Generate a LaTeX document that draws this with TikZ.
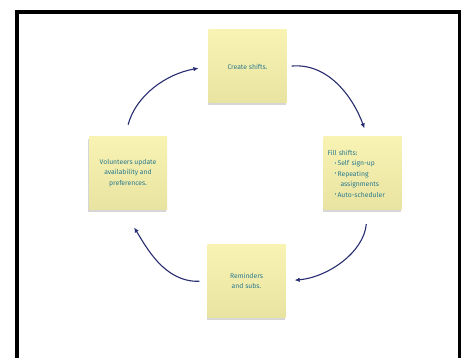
\documentclass[tikz,border=0pt]{standalone}
\usepackage{fontspec}
\setmainfont{Fira Sans}
\usetikzlibrary{shadows,arrows.meta}
\definecolor{notefill}{RGB}{248,242,172}
\definecolor{notetext}{RGB}{42,122,142}
\definecolor{cyclearrow}{RGB}{40,44,112}
\newcommand{\notebullet}{\raisebox{0.3pt}{\fontsize{6}{6}\selectfont\textbullet}\,}
\begin{document}
\begin{tikzpicture}[x=1pt,y=1pt,
  note/.style={shading=axis,top color=notefill!92!white,bottom color=notefill!94!black,
    minimum width=78pt,minimum height=73pt,inner sep=2pt,
    text=notetext,align=center,font=\fontsize{6.8}{10.5}\selectfont,
    drop shadow={shadow xshift=-0.6pt,shadow yshift=-2.2pt,fill=black!45,opacity=0.35}},
  cycle/.style={-{Latex[length=5pt,width=4.5pt]},cyclearrow,line width=1.1pt}]
\useasboundingbox (0,0) rectangle (467,-358);
\fill[white] (0,0) rectangle (467,-358);
\draw[line width=3.6pt] (17,-370) -- (17,-12) -- (459.5,-12) -- (459.5,-370);
% the four sticky notes
\node[note] (create) at (247.5,-66.5) {Create shifts.};
\node[note,align=left,text width=70pt] (fill) at (362.5,-173.5)
  {Fill shifts:\\
   \hspace*{7pt}\notebullet Self sign-up\\
   \hspace*{7pt}\notebullet Repeating\\
   \hspace*{13pt}assignments\\
   \hspace*{7pt}\notebullet Auto-scheduler};
\node[note] (remind) at (246.5,-281) {Reminders\\and subs.};
\node[note] (update) at (128,-173) {Volunteers update\\availability and\\preferences.};
% arrows round the cycle
\draw[cycle,shorten <=12pt,shorten >=10pt] ([xshift=-3pt]update.north) to[out=75,in=190] (create.west);
\draw[cycle,shorten <=5pt,shorten >=9pt] (create.east) to[out=5,in=110] ([xshift=5pt]fill.north);
\draw[cycle,shorten <=14pt,shorten >=9pt] ([xshift=5pt]fill.south) to[out=-95,in=5] (remind.east);
\draw[cycle,shorten <=8pt,shorten >=21pt] (remind.west) to[out=182,in=-58] ([xshift=-5pt]update.south);
\end{tikzpicture}
\end{document}
